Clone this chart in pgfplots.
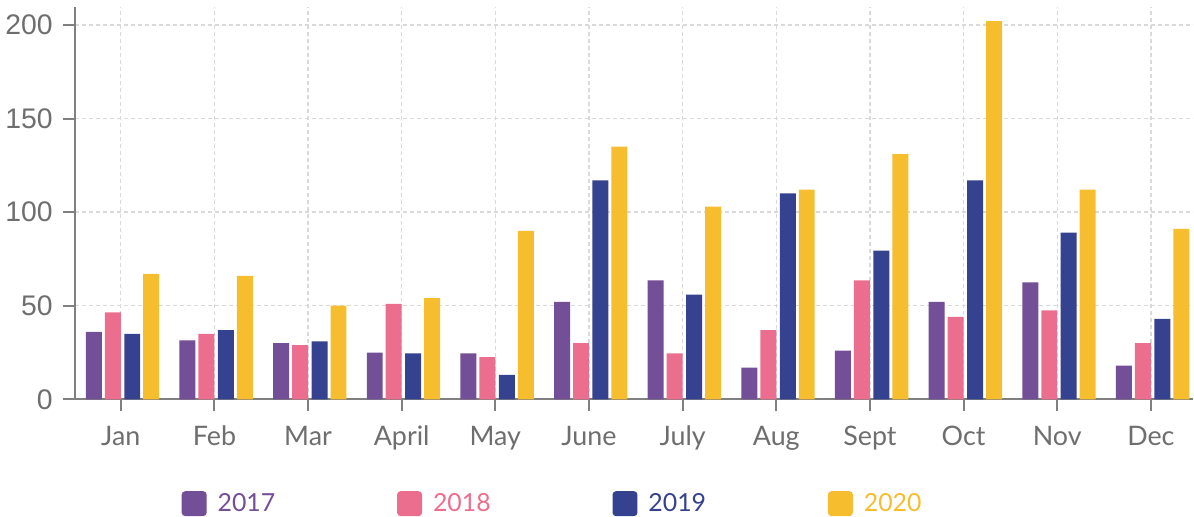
\documentclass[border=0pt]{standalone}
\usepackage{pgfplots}
\pgfplotsset{compat=1.18}
\usepackage{fontspec}
\setmainfont{Lato}
\newfontfamily\arialfont{Liberation Sans}
\definecolor{c17}{HTML}{724F96}
\definecolor{c18}{HTML}{EC6E8F}
\definecolor{c19}{HTML}{35428F}
\definecolor{c20}{HTML}{F6BD2E}
\definecolor{axgray}{HTML}{808080}
\definecolor{txtgray}{HTML}{6E6E6E}
\definecolor{gridgray}{HTML}{D9D9D9}
\pgfplotstableread{
x y17 y18 y19 y20
0 36 46.5 35 67
1 31.5 35 37 66
2 30 29 31 50
3 25 51 24.5 54
4 24.5 22.5 13 90
5 52 30 117 135
6 63.5 24.5 56 103
7 17 37 110 112
8 26 63.5 79.5 131
9 52 44 117 202
10 62.5 47.5 89 112
11 18 30 43 91
}\datatable
\begin{document}
\begin{tikzpicture}
\begin{axis}[
  scale only axis,
  width=1120bp, height=393bp,
  xmin=-0.49, xmax=11.45,
  ymin=0, ymax=209.6,
  axis lines=left,
  axis line style={draw=axgray, line width=2bp, -},
  xtick=data,
  xticklabels={Jan,Feb,Mar,April,May,June,July,Aug,Sept,Oct,Nov,Dec},
  ytick={0,50,100,150,200},
  tick align=outside,
  major tick length=12bp,
  tick style={draw=axgray, line width=2bp},
  grid=major,
  major grid style={draw=gridgray, line width=1.3bp, dash pattern=on 4bp off 3bp},
  /pgf/number format/assume math mode=true,
  yticklabel style={font=\arialfont\fontsize{28.5}{28.5}\selectfont, text=txtgray, inner sep=0pt, xshift=-10bp},
  xticklabel style={font=\fontsize{27}{27}\selectfont, text=txtgray, yshift=-11bp},
  legend columns=4,
  legend style={
    at={(axis description cs:0,0)}, anchor=north west,
    xshift=107bp, yshift=-92bp,
    draw=none, fill=none, inner sep=0pt, outer sep=0pt,
    font=\fontsize{25}{25}\selectfont,
    /tikz/every odd column/.append style={column sep=9bp},
    /tikz/every even column/.append style={column sep=120bp},
  },
  mybar/.style={ybar, bar width=16bp, draw=none,
    legend image code/.code={\fill[##1, rounded corners=3.5bp] (0bp,-12.5bp) rectangle (25bp,12.5bp);}},
]
\addplot[mybar, fill=c17, bar shift=-27bp] table[x=x, y=y17] {\datatable};
\addlegendentry{\textcolor{c17}{2017}}
\addplot[mybar, fill=c18, bar shift=-8bp] table[x=x, y=y18] {\datatable};
\addlegendentry{\textcolor{c18}{2018}}
\addplot[mybar, fill=c19, bar shift=11.5bp] table[x=x, y=y19] {\datatable};
\addlegendentry{\textcolor{c19}{2019}}
\addplot[mybar, fill=c20, bar shift=30.5bp] table[x=x, y=y20] {\datatable};
\addlegendentry{\textcolor{c20}{2020}}
\end{axis}
\path ([yshift=7bp]current axis.north east);
\path ([xshift=-75bp]current axis.south west);
\end{tikzpicture}
\end{document}
